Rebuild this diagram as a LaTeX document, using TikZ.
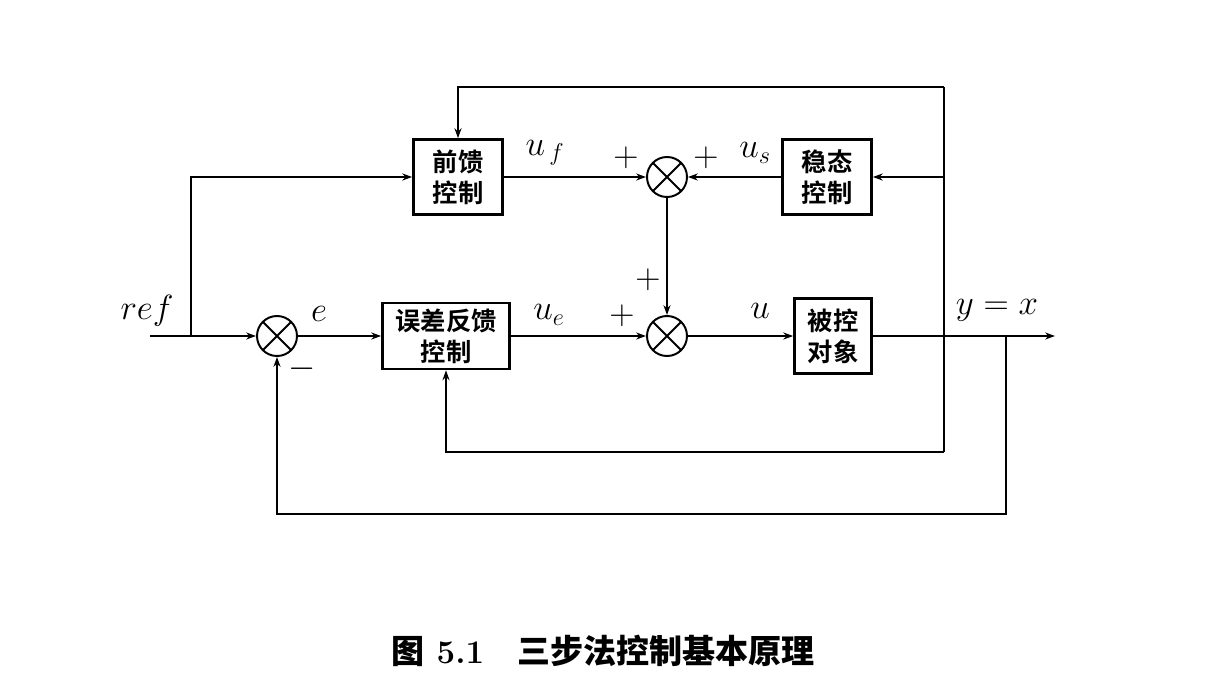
\documentclass[tikz,border=0pt]{standalone}
\usepackage{amsmath}
\usepackage{fontspec}
\newfontfamily\hei{Noto Sans CJK SC Bold}
\usetikzlibrary{arrows.meta}

\tikzset{
	blk/.style={draw, line width=1.9pt, inner sep=0pt, align=center, font=\hei\fontsize{18}{22}\selectfont},
	sumj/.style={draw, circle, line width=1.4pt, minimum size=1.0cm, inner sep=0pt,
		path picture={\draw[line width=1.4pt] (path picture bounding box.north west) -- (path picture bounding box.south east)
			(path picture bounding box.north east) -- (path picture bounding box.south west);}},
	sig/.style={line width=1.9pt, -{Stealth[length=7pt,width=5pt]}},
	wire/.style={line width=1.9pt},
	lbl/.style={font=\fontsize{23}{26}\selectfont}
}

\begin{document}
\begin{tikzpicture}[x=0.025cm, y=-0.025cm]
	\useasboundingbox (0,0) rectangle (1218,697);
	% blocks
	\node[blk, minimum width=2.225cm, minimum height=1.875cm] (ff) at (458,177) {前馈\\控制};
	\node[blk, minimum width=2.225cm, minimum height=1.875cm] (ss) at (827,177) {稳态\\控制};
	\node[blk, minimum width=3.175cm, minimum height=1.65cm] (eb) at (446,336) {误差反馈\\控制};
	\node[blk, minimum width=1.925cm, minimum height=1.875cm] (pl) at (833,336) {被控\\对象};
	% summing junctions
	\node[sumj] (s1) at (277,336) {};
	\node[sumj] (s2) at (667,336) {};
	\node[sumj] (s3) at (667,177) {};
	% branch points
	\coordinate (in) at (150,336);
	\coordinate (br) at (191,336);
	\coordinate (out) at (1055,336);
	\coordinate (tA) at (944,336);
	\coordinate (tTop) at (944,87);
	\coordinate (tBot) at (944,452);
	\coordinate (tB) at (1006,336);
	\coordinate (tB2) at (1006,514);
	% forward path
	\draw[sig] (in) -- (s1);
	\draw[sig] (br) |- (ff);
	\draw[sig] (s1) -- (eb);
	\draw[sig] (eb) -- (s2);
	\draw[sig] (ff) -- (s3);
	\draw[sig] (ss) -- (s3);
	\draw[sig] (s3) -- (s2);
	\draw[sig] (s2) -- (pl);
	\draw[sig] (pl) -- (out);
	% feedback paths
	\draw[wire] (tTop) -- (tBot);
	\draw[sig] (tTop) -| (ff.north);
	\draw[sig] (tA) |- (ss.east);
	\draw[sig] (tBot) -| (eb.south);
	\draw[sig] (tB) -- (tB2) -| (s1.south);
	% labels
	\node[lbl] (lref) at (147,311) {$ref$};
	\node[lbl] (le) at (319,314) {$e$};
	\node[lbl] (lm) at (302,369) {$-$};
	\node[lbl] (lue) at (549,315) {$u_e$};
	\node[lbl] (lp1) at (622,316) {$+$};
	\node[lbl] (lp2) at (648,280) {$+$};
	\node[lbl] (lu) at (760,311) {$u$};
	\node[lbl] (ly) at (997,310) {$y=x$};
	\node[lbl] (luf) at (545,153) {$u_{\,f}$};
	\node[lbl] (lp3) at (626,158) {$+$};
	\node[lbl] (lp4) at (706,158) {$+$};
	\node[lbl] (lus) at (755,153) {$u_s$};
	% caption
	\node[font=\bfseries\fontsize{23.5}{26}\selectfont] (cap) at (603,651) {{\hei 图}\ 5.1\quad {\hei 三步法控制基本原理}};
\end{tikzpicture}
\end{document}
